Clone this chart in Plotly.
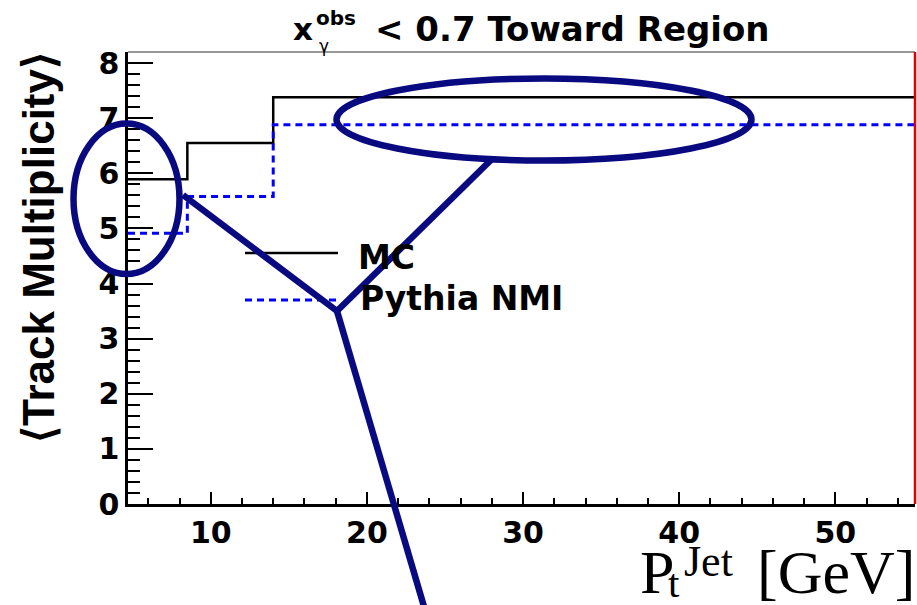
import plotly.graph_objects as go

# ---- data ----
bin_edges = [4.7, 8.5, 14.0, 55.1]          # Pt^Jet bin edges [GeV]
mc_values = [5.89, 6.55, 7.38]              # MC <Track Multiplicity>
pythia_values = [4.91, 5.58, 6.88]          # Pythia NMI <Track Multiplicity>
x_ticks = [10, 20, 30, 40, 50]
y_ticks = [0, 1, 2, 3, 4, 5, 6, 7, 8]
series_names = ["MC", "Pythia NMI"]

W, H = 917, 605
L, R, T, B = 128, 2, 52, 101
PX0, PX1, PY0, PY1 = L, W - R, T, H - B


def px(x):
    return (x - PX0) / (PX1 - PX0)


def py(y):
    return (PY1 - y) / (PY1 - PY0)


NAVY = "#0a0a80"
BOLD = "DejaVu Sans"
SERIF = "Liberation Serif"

fig = go.Figure()
fig.add_trace(go.Scatter(
    x=bin_edges, y=mc_values + [mc_values[-1]], mode="lines",
    line=dict(shape="hv", color="black", width=2.5), name=series_names[0],
    showlegend=False))
fig.add_trace(go.Scatter(
    x=bin_edges, y=pythia_values + [pythia_values[-1]], mode="lines",
    line=dict(shape="hv", color="#0000ff", width=3, dash="7px,5px"),
    name=series_names[1], showlegend=False))

fig.update_layout(
    width=W, height=H,
    margin=dict(l=L, r=R, t=T, b=B, pad=0),
    plot_bgcolor="white", paper_bgcolor="white",
    xaxis=dict(range=[bin_edges[0], bin_edges[-1]], tickvals=x_ticks,
               ticks="inside", ticklen=12, tickwidth=2, tickcolor="black",
               showline=True, linewidth=2.5, linecolor="black",
               showgrid=False, zeroline=False,
               tickfont=dict(family=BOLD, size=30, color="black", weight="bold"),
               minor=dict(dtick=2, ticks="inside", ticklen=6, tickwidth=2,
                          tickcolor="black", showgrid=False)),
    yaxis=dict(range=[0, 8.2], tickvals=y_ticks,
               ticks="inside", ticklen=25, tickwidth=2, tickcolor="black",
               showline=True, linewidth=2.5, linecolor="black",
               showgrid=False, zeroline=False,
               tickfont=dict(family=BOLD, size=30, color="black", weight="bold"),
               minor=dict(dtick=0.2, ticks="inside", ticklen=12, tickwidth=2,
                          tickcolor="black", showgrid=False)),
)

shapes = []
# frame: top line and red right edge
shapes.append(dict(type="line", xref="paper", yref="paper", x0=0, x1=1, y0=1, y1=1,
                   line=dict(color="#333333", width=1.2)))
shapes.append(dict(type="line", xref="paper", yref="paper", x0=1, x1=1, y0=0, y1=1,
                   line=dict(color="#e00000", width=2.5)))
# legend samples
shapes.append(dict(type="line", xref="paper", yref="paper", x0=px(245), x1=px(338),
                   y0=py(253), y1=py(253), line=dict(color="black", width=2.5)))
shapes.append(dict(type="line", xref="paper", yref="paper", x0=px(245), x1=px(338),
                   y0=py(300), y1=py(300), line=dict(color="#0000ff", width=3, dash="7px,5px")))
# navy annotation overlay: ellipses and connecting lines
shapes.append(dict(type="circle", xref="paper", yref="paper",
                   x0=px(73.5), x1=px(179.5), y0=py(123.5), y1=py(274),
                   line=dict(color=NAVY, width=6.5)))
shapes.append(dict(type="circle", xref="paper", yref="paper",
                   x0=px(336.5), x1=px(751.5), y0=py(78.5), y1=py(160.5),
                   line=dict(color=NAVY, width=6.5)))
for (xa, ya, xb, yb) in [(183, 195, 337, 311), (337, 311, 492, 159), (337, 311, 425, 610)]:
    shapes.append(dict(type="line", xref="paper", yref="paper",
                       x0=px(xa), y0=py(ya), x1=px(xb), y1=py(yb),
                       line=dict(color=NAVY, width=6.5)))
fig.update_layout(shapes=shapes)

ann = []
def add_text(text, x, y, size, family=BOLD, weight="bold", xanchor="left",
             yanchor="middle", angle=0):
    ann.append(dict(text=text, xref="paper", yref="paper", x=px(x), y=py(y),
                    xanchor=xanchor, yanchor=yanchor, showarrow=False,
                    textangle=angle, borderpad=0,
                    font=dict(family=family, size=size, color="black", weight=weight)))

# title
add_text("x", 292, 29, 31)
add_text("obs", 315, 18, 20)
add_text("γ", 318, 46, 17, weight="normal")
add_text("< 0.7 Toward Region", 374, 29, 34)
# legend labels
add_text(series_names[0], 357, 257, 33)
add_text(series_names[1], 359, 298, 33)
# axis titles
add_text("⟨Track Multiplicity⟩", 38, 248, 44, family="Liberation Sans", xanchor="center", angle=-90)
add_text("P", 639, 572, 62, family=SERIF, weight="normal")
add_text("t", 667, 583, 41, family=SERIF, weight="normal")
add_text("Jet", 683, 561, 44, family=SERIF, weight="normal")
add_text("[GeV]", 916, 572, 62, family=SERIF, weight="normal", xanchor="right")
fig.update_layout(annotations=ann)

fig.write_html("out.html")
